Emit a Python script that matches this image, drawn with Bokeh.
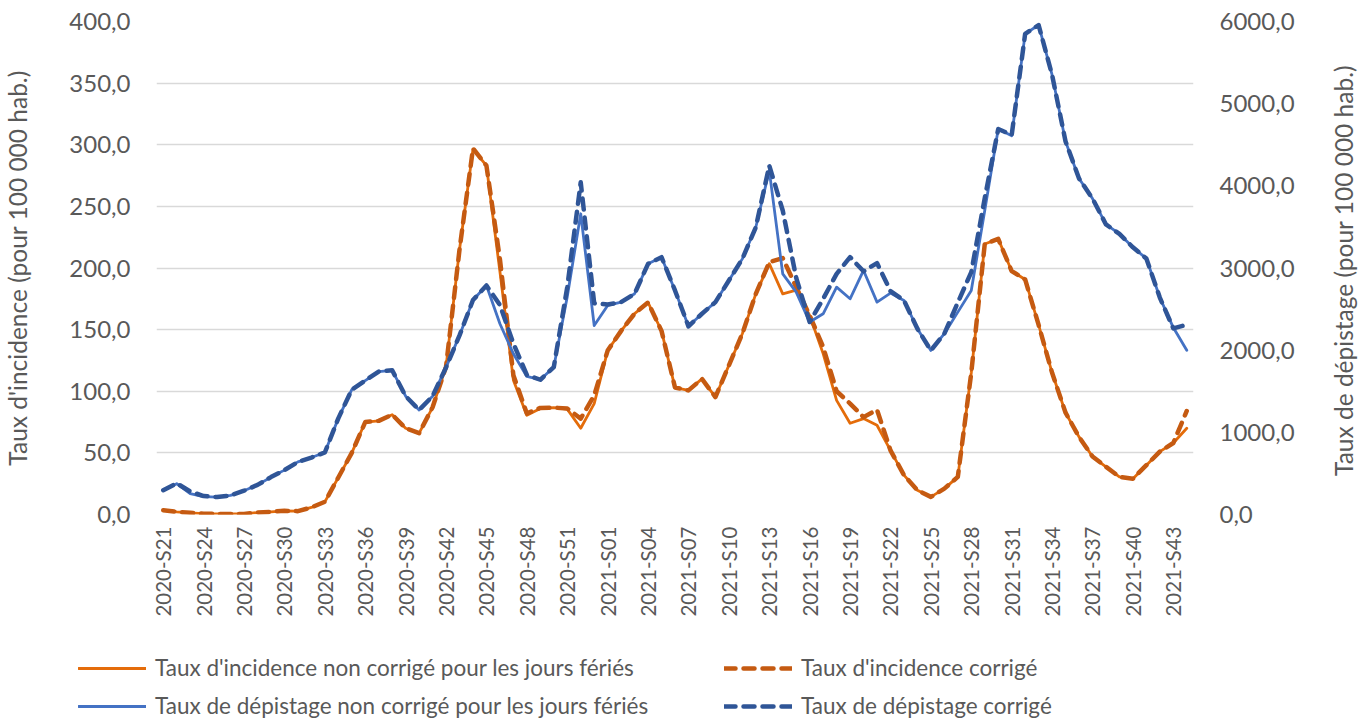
import math
from bokeh.plotting import figure
from bokeh.layouts import column, row
from bokeh.models import (Range1d, LinearAxis, FixedTicker, CustomJSTickFormatter,
                          Legend, LegendItem, ColumnDataSource, Label)
from bokeh.embed import file_html
from bokeh.resources import INLINE

# ---------------- data ----------------
weeks = ([f"2020-S{w:02d}" for w in range(21, 54)] +
         [f"2021-S{w:02d}" for w in range(1, 45)])

incidence_brut = [3.5, 2.2, 1.4, 0.6, 0.5, 0.5, 0.5, 1.6, 2.2, 3.0,
                  2.7, 5.7, 10.3, 30, 50, 75, 76, 81, 70, 66,
                  87, 120, 215, 296.5, 283, 197, 109, 80.5, 86, 86.7,
                  85.5, 70, 90, 133, 149, 163, 172, 149, 103, 100.7,
                  110, 95.3, 121, 146.7, 179, 203.5, 179, 182, 161.5, 130.5,
                  92.6, 74, 77.8, 72.4, 52, 32, 19.7, 14.3, 21, 30.5,
                  115, 219.5, 223.6, 197.5, 190.7, 153.8, 115, 82.6, 63, 47,
                  38.7, 30.5, 29, 40, 51, 58, 70]

incidence_corr = [3.5, 2.2, 1.4, 0.6, 0.5, 0.5, 0.5, 1.6, 2.2, 3.0,
                  2.7, 5.7, 10.3, 30, 50, 75, 76, 81, 70, 66,
                  87, 120, 215, 297, 283, 207, 113, 82, 86.5, 86.7,
                  86, 77.8, 96.7, 133, 149, 163, 172, 149, 103, 100.7,
                  110, 95.3, 121, 146.7, 179, 204.7, 208, 184.5, 161.5, 135.9,
                  100, 90, 79, 85, 52, 32, 19.7, 14.3, 21, 30.5,
                  115, 219.5, 223.6, 197.5, 190.7, 153.8, 115, 82.6, 63, 47,
                  38.7, 30.5, 29, 40, 51, 58, 84]

depistage_brut = [296, 375, 255, 218, 212, 232, 290, 360, 455, 540,
                  640, 693, 755, 1170, 1520, 1630, 1740, 1755, 1440, 1272,
                  1440, 1790, 2180, 2610, 2787, 2321, 1957, 1680, 1640, 1795,
                  2650, 3660, 2300, 2544, 2585, 2686, 3051, 3132, 2727, 2290,
                  2443, 2585, 2848, 3111, 3496, 4185, 2929, 2706, 2342, 2443,
                  2767, 2625, 2970, 2585, 2694, 2605, 2261, 1997, 2200, 2463,
                  2727, 3700, 4691, 4610, 5850, 5957, 5350, 4540, 4090, 3845,
                  3530, 3415, 3252, 3115, 2640, 2275, 1998]

depistage_corr = [296, 380, 280, 225, 212, 232, 290, 360, 455, 540,
                  640, 693, 755, 1170, 1520, 1630, 1740, 1755, 1440, 1272,
                  1440, 1790, 2180, 2610, 2787, 2550, 2080, 1700, 1640, 1795,
                  2767, 4043, 2570, 2556, 2585, 2686, 3051, 3132, 2727, 2290,
                  2443, 2585, 2848, 3111, 3496, 4246, 3700, 2880, 2342, 2625,
                  2929, 3132, 2960, 3060, 2720, 2605, 2261, 1997, 2200, 2580,
                  2950, 3850, 4691, 4620, 5850, 5957, 5350, 4540, 4090, 3845,
                  3530, 3415, 3252, 3115, 2640, 2265, 2310]

left_ticks = [0, 50, 100, 150, 200, 250, 300, 350, 400]
right_ticks = [0, 1000, 2000, 3000, 4000, 5000, 6000]
label_idx = list(range(0, len(weeks), 3))

left_title = "Taux d'incidence (pour 100 000 hab.)"
right_title = "Taux de dépistage (pour 100 000 hab.)"
legend_labels = ["Taux d'incidence non corrigé pour les jours fériés",
                 "Taux d'incidence corrigé",
                 "Taux de dépistage non corrigé pour les jours fériés",
                 "Taux de dépistage corrigé"]

src = ColumnDataSource(dict(x=list(range(len(weeks))),
                            ib=incidence_brut, ic=incidence_corr,
                            db=depistage_brut, dc=depistage_corr))

# ---------------- style ----------------
FONT = "Lato"
GREY = "#595959"
OR_S, OR_D = "#E46C0A", "#C55A11"
BL_S, BL_D = "#4472C4", "#2F5597"
STYLES = [dict(line_color=OR_S, line_width=2.8),
          dict(line_color=OR_D, line_width=4.5, line_dash="11 8"),
          dict(line_color=BL_S, line_width=2.8),
          dict(line_color=BL_D, line_width=4.5, line_dash="11 8")]

W_TOTAL = 1362
W_RT = 34                      # strip holding the right-hand axis title
W = W_TOTAL - W_RT
H_MAIN = 640
H_LEG = 80
FRAME_L, FRAME_T, FRAME_W, FRAME_H = 147, 21, 1046, 493

p = figure(width=W, height=H_MAIN, output_backend="svg", toolbar_location=None,
           x_range=Range1d(-0.5, len(weeks) - 0.5), y_range=Range1d(0, 400),
           min_border_left=FRAME_L, min_border_right=W - FRAME_L - FRAME_W,
           min_border_top=FRAME_T, min_border_bottom=H_MAIN - FRAME_T - FRAME_H)
p.outline_line_color = None
p.extra_y_ranges = {"dep": Range1d(0, 6000)}

fmt = CustomJSTickFormatter(code="return tick.toFixed(1).replace('.', ',');")

ya = p.yaxis[0]
ya.ticker = FixedTicker(ticks=left_ticks)
ya.formatter = fmt
ya.axis_label = left_title

ra = LinearAxis(y_range_name="dep", ticker=FixedTicker(ticks=right_ticks),
                formatter=fmt)
p.add_layout(ra, "right")

for ax, st, lst in ((ya, 20, 34), (ra, 20, 34)):
    ax.axis_line_color = None
    ax.major_tick_line_color = None
    ax.minor_tick_line_color = None
    ax.major_label_text_font = FONT
    ax.major_label_text_font_size = "24px"
    ax.major_label_text_color = GREY
    ax.major_label_standoff = st
    ax.axis_label_text_font = FONT
    ax.axis_label_text_font_size = "24.5px"
    ax.axis_label_text_font_style = "normal"
    ax.axis_label_text_color = GREY
    ax.axis_label_standoff = lst

xa = p.xaxis[0]
xa.ticker = FixedTicker(ticks=label_idx)
xa.major_label_overrides = {i: weeks[i] for i in label_idx}
xa.major_label_orientation = math.pi / 2
xa.axis_line_color = None
xa.major_tick_line_color = None
xa.minor_tick_line_color = None
xa.major_label_text_font = FONT
xa.major_label_text_font_size = "20.5px"
xa.major_label_text_color = GREY
xa.major_label_standoff = 6

p.xgrid.visible = False
p.ygrid.ticker = FixedTicker(ticks=left_ticks)
p.ygrid.grid_line_color = "#D9D9D9"
p.ygrid.grid_line_width = 1.6

# ---------------- lines ----------------
cols = ["ib", "ic", "db", "dc"]
for c, st in zip(cols, STYLES):
    kw = dict(st)
    if c in ("db", "dc"):
        kw["y_range_name"] = "dep"
    p.line("x", c, source=src, line_join="round", line_cap="round", **kw)


def blank_strip(width, height):
    f = figure(width=width, height=height, output_backend="svg", toolbar_location=None,
               x_range=Range1d(0, 1), y_range=Range1d(0, 1),
               x_axis_type=None, y_axis_type=None,
               min_border=0, min_border_left=0, min_border_right=0,
               min_border_top=0, min_border_bottom=0)
    try:
        f.frame_align = False
    except Exception:
        pass
    f.outline_line_color = None
    f.grid.visible = False
    return f

# ---------------- right axis title (reads bottom to top) ----------------
pr = blank_strip(W_RT, H_MAIN)
pr.add_layout(Label(x=0.44, y=1 - 270 / H_MAIN, text=right_title, angle=math.pi / 2,
                    text_align="center", text_baseline="middle",
                    text_font=FONT, text_font_size="24.5px", text_color=GREY))

# ---------------- legend strip ----------------
pl = blank_strip(W_TOTAL, H_LEG)
nan = float("nan")
dummies = [pl.line([0, 1], [nan, nan], line_join="round", line_cap="round", **st)
           for st in STYLES]

def make_legend(idx, vy):
    its = [LegendItem(label=legend_labels[i], renderers=[dummies[i]]) for i in idx]
    return Legend(items=its, orientation="horizontal", location=(78, vy),
                  glyph_width=68, glyph_height=24, label_height=24,
                  label_width=560, label_standoff=9, spacing=9,
                  padding=0, margin=0, border_line_alpha=0,
                  background_fill_alpha=0, label_text_font=FONT,
                  label_text_font_size="22.5px", label_text_color=GREY)

pl.add_layout(make_legend([0, 1], 39), "center")
pl.add_layout(make_legend([2, 3], 1), "center")

open("out.html", "w").write(file_html(column(row(p, pr), pl), INLINE))
